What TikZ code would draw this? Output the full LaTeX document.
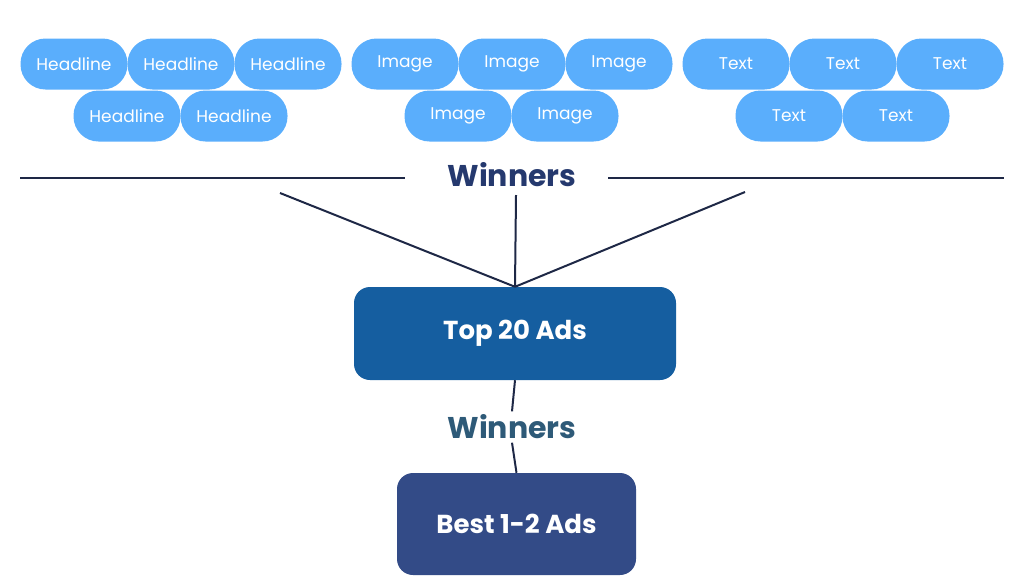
\documentclass[tikz,border=0pt]{standalone}
\usepackage{fontspec}
\setmainfont{Poppins}
\definecolor{pill}{HTML}{5AAEFC}
\definecolor{ln}{HTML}{1E2846}
\definecolor{win}{HTML}{25396E}
\definecolor{winb}{HTML}{2E5A78}
\definecolor{topc}{HTML}{155EA0}
\definecolor{bestc}{HTML}{334B87}
\begin{document}
\begin{tikzpicture}[x=1pt,y=-1pt,
 pill/.style={fill=pill,rounded corners=25pt,minimum width=107pt,minimum height=51pt,inner sep=0pt,text=white,font=\fontsize{17}{20}\selectfont},
 big/.style={rounded corners=16pt,text=white,font=\bfseries\fontsize{26}{30}\selectfont,inner sep=0pt},
 lbl/.style={font=\bfseries\fontsize{30}{34}\selectfont},
 con/.style={draw=ln,line width=2pt}]
\useasboundingbox (0,0) rectangle (1024,582);
\foreach \x/\n in {74/h1,181/h2,288/h3} \node[pill] (\n) at (\x,64) {Headline};
\foreach \x/\n in {127/h4,234/h5} \node[pill] (\n) at (\x,116) {Headline};
\foreach \x/\n in {405/i1,512/i2,619/i3} \node[pill] (\n) at (\x,64) {Image};
\foreach \x/\n in {458/i4,565/i5} \node[pill] (\n) at (\x,116) {Image};
\foreach \x/\n in {736/t1,843/t2,950/t3} \node[pill] (\n) at (\x,64) {Text};
\foreach \x/\n in {789/t4,896/t5} \node[pill] (\n) at (\x,116) {Text};
\node[lbl,text=win] (w1) at (512,175) {Winners};
\coordinate (l1) at (20,178); \coordinate (l2) at (405,178);
\coordinate (r1) at (608,178); \coordinate (r2) at (1004,178);
\draw[con] (l1)--(l2); \draw[con] (r1)--(r2);
\node[big,fill=topc,minimum width=322pt,minimum height=93pt] (top) at (515,333.5) {Top 20 Ads};
\coordinate (a) at (280,193); \coordinate (b) at (516,195); \coordinate (c) at (745,192);
\draw[con] (a)--(top.north) (b)--(top.north) (c)--(top.north);
\node[lbl,text=winb] (w2) at (512,427) {Winners};
\node[big,fill=bestc,minimum width=239pt,minimum height=102pt] (best) at (516.5,524) {Best 1-2 Ads};
\draw[con] (top.south)--(w2.north);
\draw[con] (w2.south)--(best.north);
\end{tikzpicture}
\end{document}
